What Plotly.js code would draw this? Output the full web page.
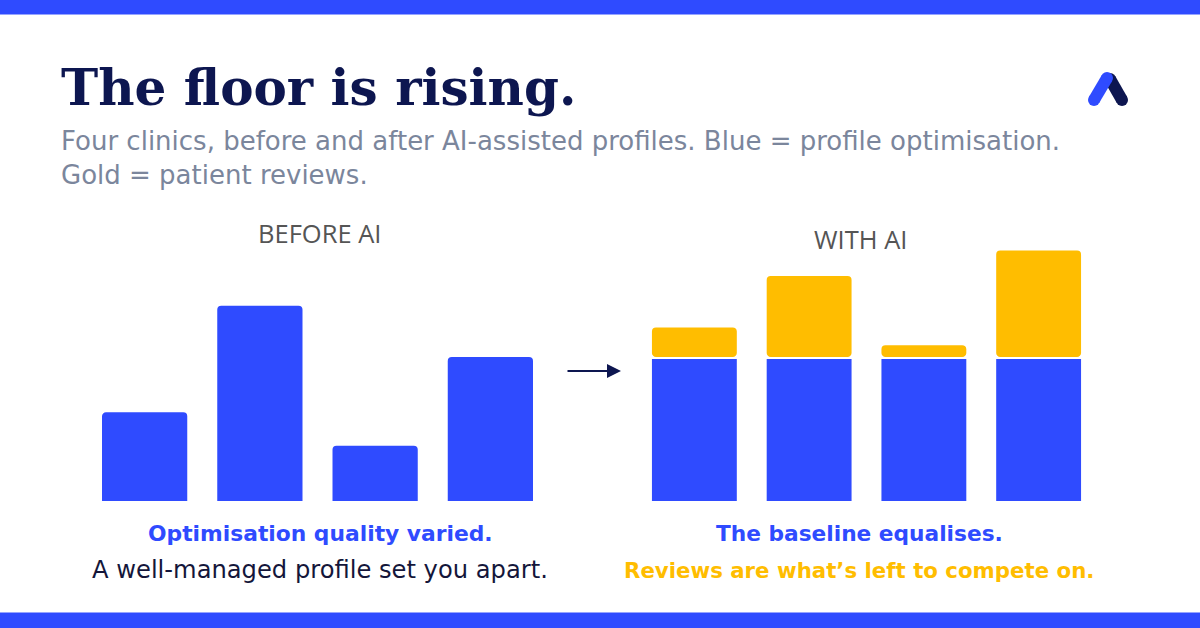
<!DOCTYPE html>
<html>
<head>
<meta charset="utf-8">
<script src="https://cdn.plot.ly/plotly-3.0.1.min.js"></script>
<style>
html,body{margin:0;padding:0;background:#fff;}
#chart{width:1200px;height:628px;}
</style>
</head>
<body>
<div id="chart"></div>
<script>
// ---- data ----
const clinics = ['Clinic A', 'Clinic B', 'Clinic C', 'Clinic D'];
const beforeOptimisation = [46, 100, 29, 74];
const withAiOptimisation = [73, 73, 73, 73];
const withAiReviews = [16, 42, 7, 55];

const titleText = 'The floor is rising.';
const subtitleLines = ['Four clinics, before and after AI-assisted profiles. Blue = profile optimisation.', 'Gold = patient reviews.'];
const panelLabels = ['BEFORE AI', 'WITH AI'];
const leftCaption = ['Optimisation quality varied.', 'A well-managed profile set you apart.'];
const rightCaption = ['The baseline equalises.', 'Reviews are what\u2019s left to compete on.'];

// ---- style ----
const W = 1200, H = 628;
const BLUE = '#2f4bff', GOLD = '#ffbd00', NAVY = '#0d1650', GREY = '#7b869c';
const SANS = 'DejaVu Sans, sans-serif';
const px = x => x / W;
const py = y => 1 - y / H;

const barLine = {color: '#ffffff', width: 2};

const traces = [
  {type: 'bar', x: clinics, y: beforeOptimisation, xaxis: 'x', yaxis: 'y',
   marker: {color: BLUE, line: barLine, cornerradius: 5}, hoverinfo: 'skip', name: 'Before AI'},
  {type: 'bar', x: clinics, y: withAiOptimisation, xaxis: 'x2', yaxis: 'y2',
   marker: {color: BLUE, line: barLine, cornerradius: 5}, hoverinfo: 'skip', name: 'Profile optimisation'},
  {type: 'bar', x: clinics, y: withAiReviews, base: withAiOptimisation, xaxis: 'x2', yaxis: 'y2',
   marker: {color: GOLD, line: barLine, cornerradius: 5}, hoverinfo: 'skip', name: 'Patient reviews'}
];

const yDom = [(H - 502) / H, (H - 225.8) / H];
const hidden = {visible: false, fixedrange: true};

const ann = [];
function txt(text, x, y, font, opts) {
  ann.push(Object.assign({text: text, x: px(x), y: py(y), xref: 'paper', yref: 'paper',
    showarrow: false, xanchor: 'center', yanchor: 'middle', font: font}, opts || {}));
}
txt(titleText, 59, 88, {family: 'DejaVu Serif, serif', size: 50, color: NAVY, weight: 700}, {xanchor: 'left'});
txt(subtitleLines.join('<br>'), 59, 158, {family: SANS, size: 26, color: GREY}, {xanchor: 'left', align: 'left'});
txt(panelLabels[0], 319, 233, {family: 'Open Sans, sans-serif', size: 25.5, color: '#555555'});
txt(panelLabels[1], 860, 239, {family: 'Open Sans, sans-serif', size: 25.5, color: '#555555'});
txt(leftCaption[0], 320, 533, {family: SANS, size: 21.8, color: BLUE, weight: 700});
txt(leftCaption[1], 320, 570, {family: SANS, size: 24.2, color: '#14163a'});
txt(rightCaption[0], 859, 533, {family: SANS, size: 21.7, color: BLUE, weight: 700});
txt(rightCaption[1], 859, 570, {family: SANS, size: 21.3, color: GOLD, weight: 700});
// arrow
ann.push({text: '', x: px(621), y: py(371), xref: 'paper', yref: 'paper', showarrow: true,
  ax: -55, ay: 0, arrowhead: 2, arrowsize: 1.4, arrowwidth: 2, arrowcolor: NAVY});

const shapes = [
  {type: 'rect', xref: 'paper', yref: 'paper', x0: 0, x1: 1, y0: py(14.5), y1: 1, fillcolor: BLUE, line: {width: 0}},
  {type: 'rect', xref: 'paper', yref: 'paper', x0: 0, x1: 1, y0: 0, y1: py(612.5), fillcolor: BLUE, line: {width: 0}}
];
function stroke(x0, y0, x1, y1, color, w) {
  shapes.push({type: 'line', xref: 'paper', yref: 'paper', x0: px(x0), y0: py(y0), x1: px(x1), y1: py(y1), line: {color: color, width: w}});
  [[x0, y0], [x1, y1]].forEach(p => shapes.push({type: 'circle', xref: 'paper', yref: 'paper',
    x0: px(p[0] - w / 2), x1: px(p[0] + w / 2), y0: py(p[1] + w / 2), y1: py(p[1] - w / 2), fillcolor: color, line: {width: 0}}));
}
// logo
stroke(1110, 79, 1122, 100, NAVY, 12);
stroke(1094, 100, 1107, 78, BLUE, 12);

const layout = {
  width: W, height: H,
  margin: {l: 0, r: 0, t: 0, b: 0},
  paper_bgcolor: '#ffffff', plot_bgcolor: '#ffffff',
  showlegend: false,
  barmode: 'overlay',
  bargap: 0.243,
  xaxis: Object.assign({domain: [87 / W, 548 / W], anchor: 'y', type: 'category', range: [-0.5, 3.5]}, hidden),
  xaxis2: Object.assign({domain: [637 / W, 1096 / W], anchor: 'y2', type: 'category', range: [-0.5, 3.5]}, hidden),
  yaxis: Object.assign({domain: yDom, anchor: 'x', range: [0, 140]}, hidden),
  yaxis2: Object.assign({domain: yDom, anchor: 'x2', range: [0, 140]}, hidden),
  annotations: ann,
  shapes: shapes
};

Plotly.newPlot('chart', traces, layout, {displayModeBar: false, staticPlot: true});
</script>
</body>
</html>
